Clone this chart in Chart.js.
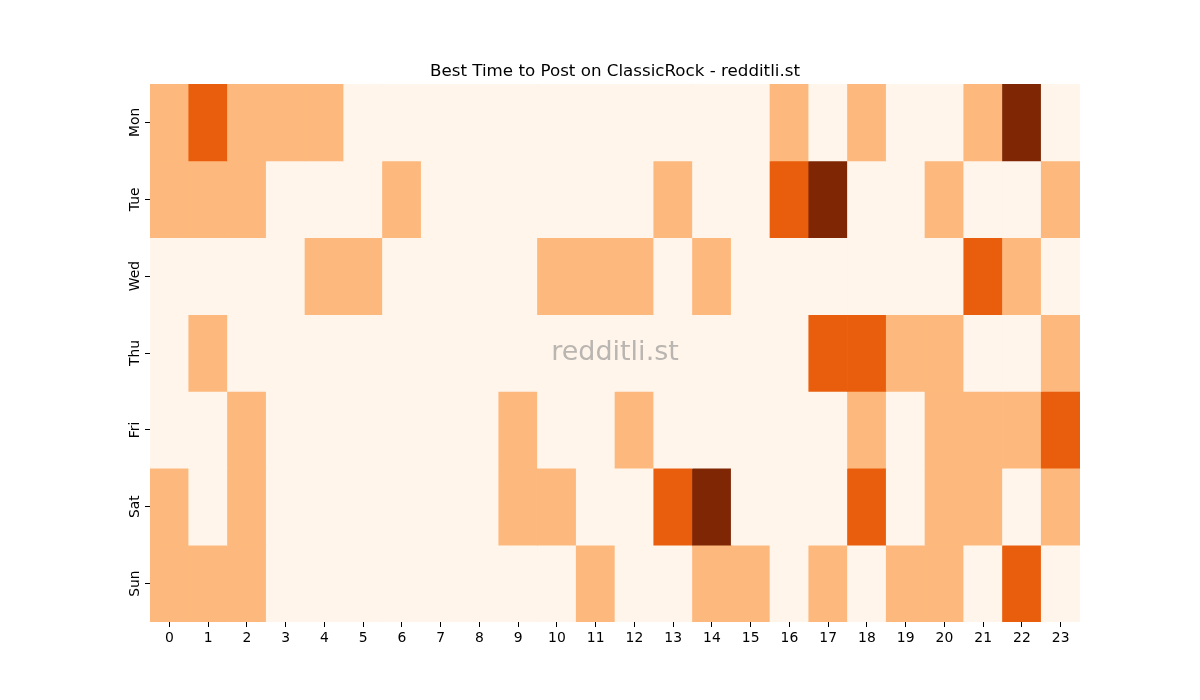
<!DOCTYPE html>
<html>
<head>
<meta charset="utf-8">
<title>Best Time to Post on ClassicRock</title>
<script src="https://cdn.jsdelivr.net/npm/chart.js@4/dist/chart.umd.min.js"></script>
<style>
    html, body { margin: 0; padding: 0; background: #fff; }
    #wrap { width: 1200px; height: 700px; position: relative; }
</style>
</head>
<body>
<div id="wrap"><canvas id="heat" width="1200" height="700"></canvas></div>
<script>
// --- Data ---
const hours = ['0','1','2','3','4','5','6','7','8','9','10','11','12','13','14','15','16','17','18','19','20','21','22','23'];
const days = ['Mon', 'Tue', 'Wed', 'Thu', 'Fri', 'Sat', 'Sun'];

// activity level per hour (0 = lowest, 3 = highest)
const mon = [1,2,1,1,1,0,0,0,0,0,0,0,0,0,0,0,1,0,1,0,0,1,3,0];
const tue = [1,1,1,0,0,0,1,0,0,0,0,0,0,1,0,0,2,3,0,0,1,0,0,1];
const wed = [0,0,0,0,1,1,0,0,0,0,1,1,1,0,1,0,0,0,0,0,0,2,1,0];
const thu = [0,1,0,0,0,0,0,0,0,0,0,0,0,0,0,0,0,2,2,1,1,0,0,1];
const fri = [0,0,1,0,0,0,0,0,0,1,0,0,1,0,0,0,0,0,1,0,1,1,1,2];
const sat = [1,0,1,0,0,0,0,0,0,1,1,0,0,2,3,0,0,0,2,0,1,1,0,1];
const sun = [1,1,1,0,0,0,0,0,0,0,0,1,0,0,1,1,0,1,0,1,1,0,2,0];
const levels = [mon, tue, wed, thu, fri, sat, sun];

// Oranges colormap, 4 steps
const palette = ['#fff5eb', '#fdb97d', '#e95e0d', '#7f2704'];

const TITLE = 'Best Time to Post on ClassicRock - redditli.st';
const FONT = '"DejaVu Sans"';

// --- Title, rotated day labels and watermark (centred on the plot area) ---
const decorations = {
    id: 'decorations',
    afterDatasetsDraw(chart) {
        const { ctx, chartArea, scales } = chart;
        const cx = (chartArea.left + chartArea.right) / 2;
        ctx.save();

        // watermark
        ctx.font = `27px ${FONT}`;
        ctx.fillStyle = 'rgba(128, 128, 128, 0.55)';
        ctx.textAlign = 'center';
        ctx.textBaseline = 'middle';
        ctx.fillText('redditli.st', cx, (chartArea.top + chartArea.bottom) / 2);

        // title
        ctx.font = `16.7px ${FONT}`;
        ctx.fillStyle = '#000';
        ctx.textBaseline = 'alphabetic';
        ctx.fillText(TITLE, cx, chartArea.top - 8);

        // y labels, reading bottom to top
        ctx.font = `13.9px ${FONT}`;
        days.forEach((day, i) => {
            const y = scales.y.getPixelForValue(i + 0.5);
            ctx.save();
            ctx.translate(chartArea.left - 11, y);
            ctx.rotate(-Math.PI / 2);
            ctx.fillText(day, 0, 0);
            ctx.restore();
        });
        ctx.restore();
    }
};

const datasets = days.map((day, d) => ({
    label: day,
    data: hours.map(() => [d, d + 1]),
    backgroundColor: levels[d].map(v => palette[v]),
    borderWidth: 0,
    barPercentage: 1,
    categoryPercentage: 1
}));

new Chart(document.getElementById('heat'), {
    type: 'bar',
    data: { labels: hours, datasets },
    options: {
        responsive: false,
        animation: false,
        events: [],
        layout: { padding: { top: 84, right: 120, bottom: 0, left: 0 } },
        plugins: {
            legend: { display: false },
            tooltip: { enabled: false },
            title: { display: false }
        },
        scales: {
            x: {
                stacked: true,
                offset: true,
                grid: { display: true, drawOnChartArea: false, drawTicks: true, tickLength: 5, color: '#000', offset: false },
                border: { display: false },
                ticks: { color: '#000', font: { family: FONT, size: 13.9 }, padding: 3, maxRotation: 0, autoSkip: false },
                afterFit: scale => { scale.height = 78; }
            },
            y: {
                min: 0,
                max: 7,
                reverse: true,
                grid: { display: true, drawOnChartArea: false, drawTicks: true, tickLength: 5, color: '#000' },
                border: { display: false },
                afterBuildTicks: scale => {
                    scale.ticks = days.map((_, i) => ({ value: i + 0.5 }));
                },
                ticks: { display: false },
                afterFit: scale => { scale.width = 150; }
            }
        }
    },
    plugins: [decorations]
});
</script>
</body>
</html>
